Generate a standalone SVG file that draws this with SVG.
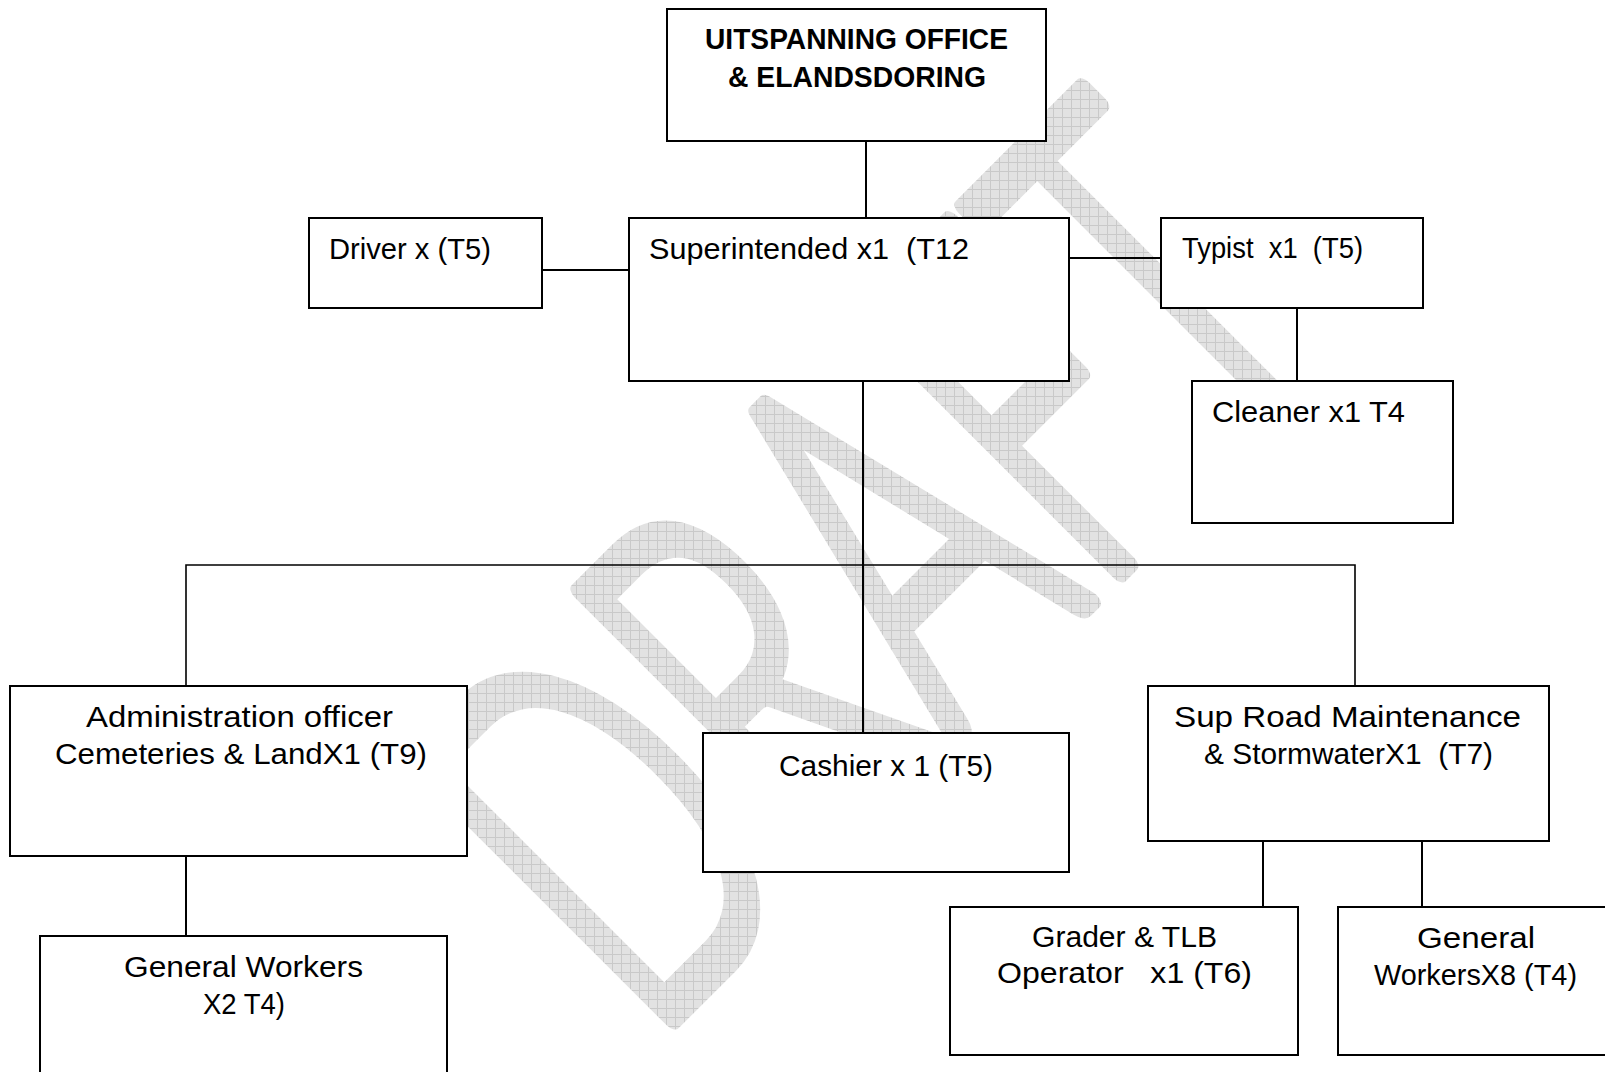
<svg xmlns="http://www.w3.org/2000/svg" width="1605" height="1072" viewBox="0 0 1605 1072">
  <defs>
    <!-- light grey cross-hatched fill for the watermark -->
    <pattern id="hatch" patternUnits="userSpaceOnUse" width="9" height="9" patternTransform="rotate(45)">
      <rect width="9" height="9" fill="#e2e2e2"/>
      <path d="M0 0.5H9M0.5 0V9" stroke="#c9c9c9" stroke-width="1"/>
    </pattern>
    <style>
      .box { fill: #ffffff; stroke: #000000; stroke-width: 2; }
      .wire { stroke: #000000; stroke-width: 2; fill: none; }
      .bus { stroke: #000000; stroke-width: 1.6; fill: none; }
      .lbl { font-family: "Liberation Sans", Arial, sans-serif; font-size: 30px; fill: #000000; white-space: pre; }
      .mid { text-anchor: middle; }
      .title { font-family: "Liberation Sans", Arial, sans-serif; font-size: 29px; font-weight: bold; fill: #000000; text-anchor: middle; }
      .wm { font-family: Lato, "Liberation Sans", sans-serif; font-weight: 300; font-size: 520px; fill: url(#hatch); stroke: url(#hatch); stroke-width: 21; stroke-linejoin: round; stroke-linecap: round; }
    </style>
  </defs>

  <rect width="1605" height="1072" fill="#ffffff"/>

  <!-- watermark -->
  <g id="watermark">
    <text class="wm" x="0" y="0" transform="translate(648,1044) rotate(-45)" textLength="990" lengthAdjust="spacingAndGlyphs">DRAFT</text>
  </g>

  <!-- connectors -->
  <g id="connectors">
    <path class="wire" d="M866 141V218"/>
    <path class="wire" d="M542 270H629"/>
    <path class="wire" d="M1069 258H1161"/>
    <path class="wire" d="M1297 308V381"/>
    <path class="wire" d="M863 381V733"/>
    <path class="bus" d="M186 686V565H1355V686"/>
    <path class="wire" d="M186 856V936"/>
    <path class="wire" d="M1263 841V907"/>
    <path class="wire" d="M1422 841V907"/>
  </g>

  <g id="office">
    <rect class="box" x="667" y="9" width="379" height="132"/>
    <text class="title" x="856.5" y="49" textLength="303" lengthAdjust="spacingAndGlyphs">UITSPANNING OFFICE</text>
    <text class="title" x="857" y="87" textLength="258" lengthAdjust="spacingAndGlyphs">&amp; ELANDSDORING</text>
  </g>

  <g id="driver">
    <rect class="box" x="309" y="218" width="233" height="90"/>
    <text class="lbl" x="329" y="259" textLength="162" lengthAdjust="spacingAndGlyphs">Driver x (T5)</text>
  </g>

  <g id="superintended">
    <rect class="box" x="629" y="218" width="440" height="163"/>
    <text class="lbl" x="649" y="259" textLength="320" lengthAdjust="spacingAndGlyphs">Superintended x1  (T12</text>
  </g>

  <g id="typist">
    <rect class="box" x="1161" y="218" width="262" height="90"/>
    <text class="lbl" x="1182" y="258" textLength="181" lengthAdjust="spacingAndGlyphs">Typist  x1  (T5)</text>
  </g>

  <g id="cleaner">
    <rect class="box" x="1192" y="381" width="261" height="142"/>
    <text class="lbl" x="1212" y="422" textLength="193" lengthAdjust="spacingAndGlyphs">Cleaner x1 T4</text>
  </g>

  <g id="admin-officer">
    <rect class="box" x="10" y="686" width="457" height="170"/>
    <text class="lbl mid" x="239.5" y="727" textLength="307" lengthAdjust="spacingAndGlyphs">Administration officer</text>
    <text class="lbl mid" x="241" y="764" textLength="372" lengthAdjust="spacingAndGlyphs">Cemeteries &amp; LandX1 (T9)</text>
  </g>

  <g id="cashier">
    <rect class="box" x="703" y="733" width="366" height="139"/>
    <text class="lbl mid" x="886" y="776" textLength="214" lengthAdjust="spacingAndGlyphs">Cashier x 1 (T5)</text>
  </g>

  <g id="sup-road">
    <rect class="box" x="1148" y="686" width="401" height="155"/>
    <text class="lbl mid" x="1347.5" y="727" textLength="347" lengthAdjust="spacingAndGlyphs">Sup Road Maintenance</text>
    <text class="lbl mid" x="1348.5" y="764" textLength="289" lengthAdjust="spacingAndGlyphs">&amp; StormwaterX1  (T7)</text>
  </g>

  <g id="general-workers-x2">
    <rect class="box" x="40" y="936" width="407" height="150"/>
    <text class="lbl mid" x="243.5" y="977" textLength="239" lengthAdjust="spacingAndGlyphs">General Workers</text>
    <text class="lbl mid" x="244" y="1014" textLength="82" lengthAdjust="spacingAndGlyphs">X2 T4)</text>
  </g>

  <g id="grader-operator">
    <rect class="box" x="950" y="907" width="348" height="148"/>
    <text class="lbl mid" x="1124.5" y="947" textLength="185" lengthAdjust="spacingAndGlyphs">Grader &amp; TLB</text>
    <text class="lbl mid" x="1124.5" y="983" textLength="255" lengthAdjust="spacingAndGlyphs">Operator   x1 (T6)</text>
  </g>

  <g id="general-workers-x8">
    <rect class="box" x="1338" y="907" width="277" height="148"/>
    <text class="lbl mid" x="1476" y="948" textLength="118" lengthAdjust="spacingAndGlyphs">General</text>
    <text class="lbl mid" x="1475.5" y="985" textLength="203" lengthAdjust="spacingAndGlyphs">WorkersX8 (T4)</text>
  </g>
</svg>
